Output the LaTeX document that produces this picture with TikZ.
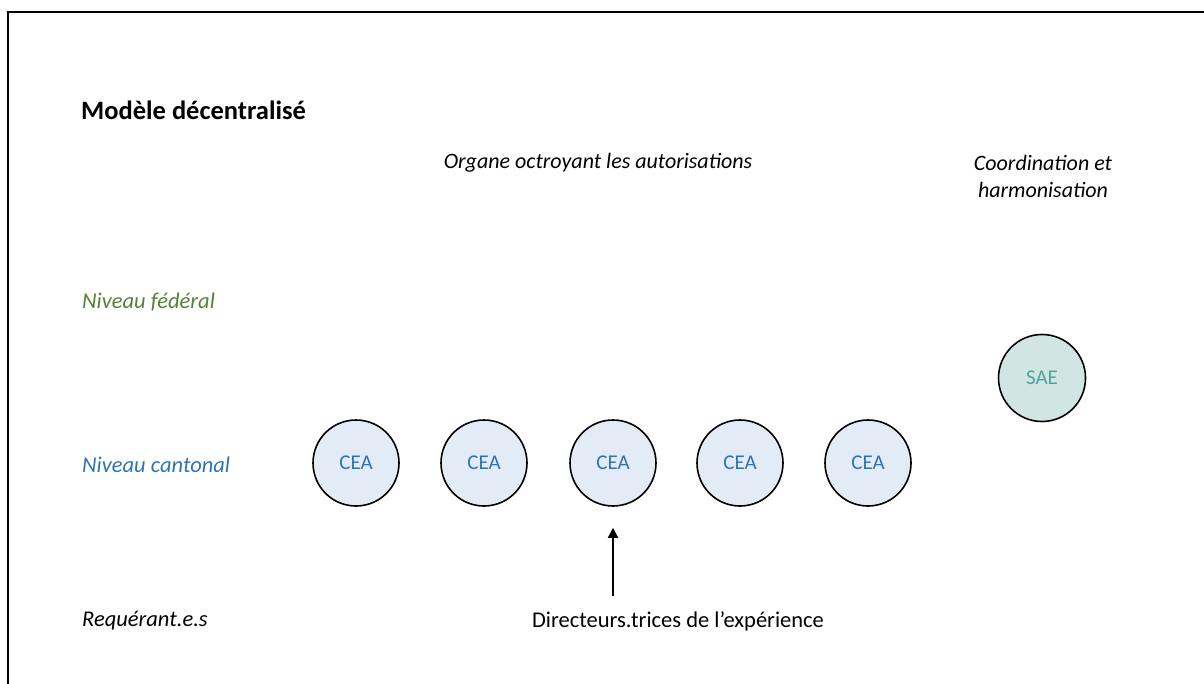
\documentclass[tikz,border=0pt]{standalone}
\usepackage{fontspec}
\setmainfont{Carlito}
\usetikzlibrary{arrows.meta}
\definecolor{fedgreen}{HTML}{548235}
\definecolor{cantblue}{HTML}{2E75B6}
\definecolor{ceafill}{HTML}{E2EBF6}
\definecolor{saefill}{HTML}{D1E6E3}
\definecolor{saetext}{HTML}{4FA3A0}
\begin{document}
\begin{tikzpicture}[x=1pt,y=-1pt,
  lbl/.style={font=\fontsize{22.5}{27}\selectfont\itshape, anchor=west, inner sep=0pt},
  head/.style={font=\fontsize{22}{27}\selectfont\itshape, align=center, inner sep=0pt},
  cea/.style={circle, draw=black, line width=1.6pt, fill=ceafill, minimum size=86pt, inner sep=0pt,
    text=cantblue, font=\fontsize{21}{25}\selectfont},
  sae/.style={circle, draw=black, line width=1.6pt, fill=saefill, minimum size=87pt, inner sep=0pt,
    text=saetext, font=\fontsize{21}{25}\selectfont},
  link/.style={-{Triangle[width=10pt,length=10pt]}, line width=1.8pt, shorten >=21pt}]
\useasboundingbox (0,0) rectangle (1204,684);
% frame edges
\draw[line width=2pt] (8,684) -- (8,12.5) -- (1204,12.5);

\node[anchor=west, inner sep=0pt, font=\fontsize{26.5}{30}\selectfont\bfseries] (title) at (81,110) {Modèle décentralisé};

\node[head] (organe) at (598,163) {Organe octroyant les autorisations};
\node[head] (coord) at (1043,176) {Coordination et\\[0pt]harmonisation};

\node[lbl, text=fedgreen] (fed) at (82,302) {Niveau fédéral};
\node[lbl, text=cantblue] (cant) at (82,465) {Niveau cantonal};
\node[lbl] (req) at (82,621) {Requérant.e.s};

\node[cea] (c1) at (356,463) {CEA};
\node[cea] (c2) at (484,463) {CEA};
\node[cea] (c3) at (613,463) {CEA};
\node[cea] (c4) at (740,463) {CEA};
\node[cea] (c5) at (868,463) {CEA};

\node[sae] (sae) at (1042,378) {SAE};

\node[inner sep=0pt, font=\fontsize{22.5}{27}\selectfont] (dir) at (678,621) {Directeurs.trices de l’expérience};
\coordinate (arrstart) at (613,596);
\draw[link] (arrstart) -- (c3.south);
\end{tikzpicture}
\end{document}
